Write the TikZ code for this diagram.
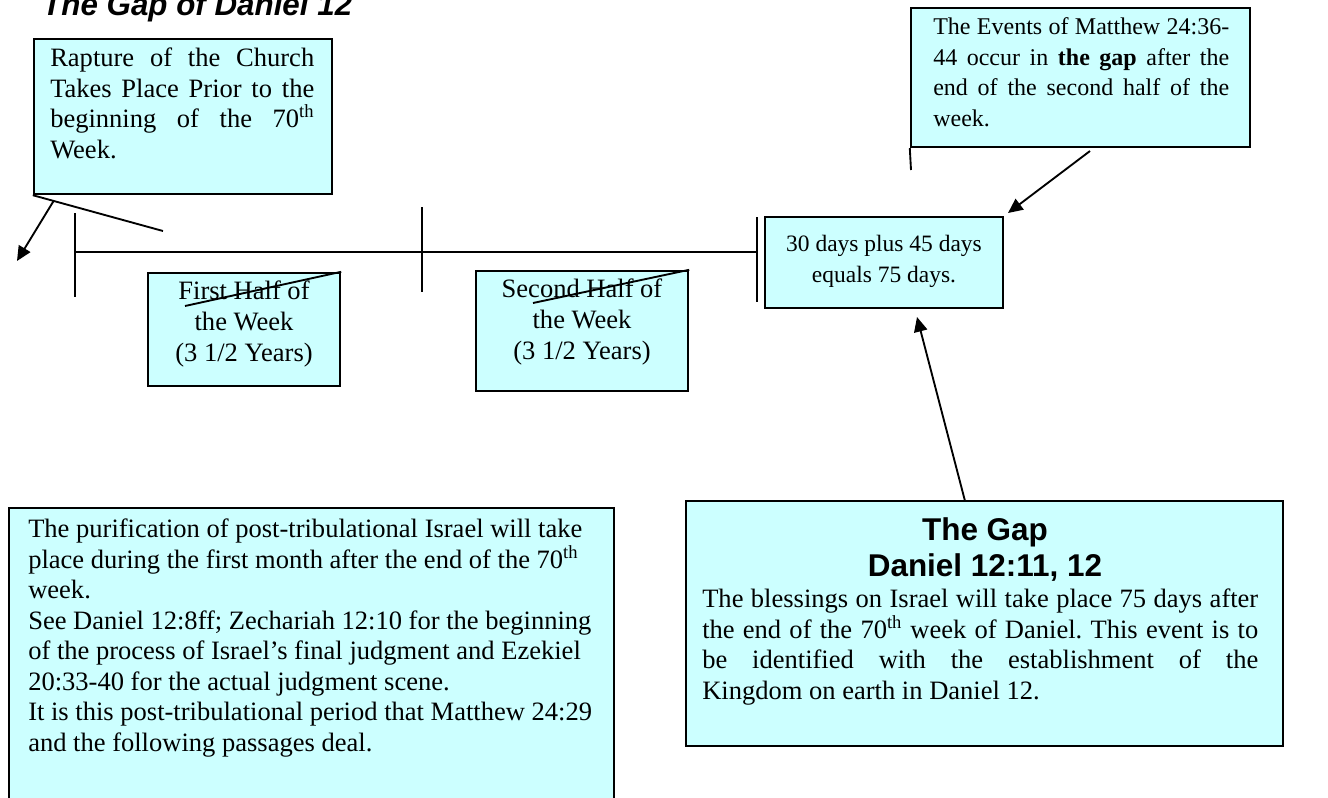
\documentclass[tikz,border=0pt]{standalone}
\usepackage{fontspec}
\setmainfont{Liberation Serif}
\newfontfamily\arialfont{Liberation Sans}
\usetikzlibrary{arrows.meta,fit}
\definecolor{boxcyan}{HTML}{CCFFFF}
\newcommand\J[2]{\makebox[#1][s]{#2}}
\frenchspacing
\tikzset{
  box/.style={draw=black, line width=1.8pt, fill=boxcyan, inner sep=0pt},
  txt/.style={inner sep=0pt, align=left, font=\fontsize{19.9pt}{22.9pt}\selectfont},
  smalltxt/.style={inner sep=0pt, align=left, font=\fontsize{18pt}{22.9pt}\selectfont},
  ctxt/.style={inner sep=0pt, align=center, font=\fontsize{19.9pt}{22.9pt}\selectfont},
  cstxt/.style={inner sep=0pt, align=center, font=\fontsize{17.6pt}{23.2pt}\selectfont},
  head/.style={inner sep=0pt, align=center, font=\arialfont\bfseries\fontsize{23.6pt}{27pt}\selectfont},
  conn/.style={line width=1.4pt},
  arr/.style={conn, -{Triangle[length=11pt,width=10pt]}},
}
\begin{document}
\begin{tikzpicture}[x=0.75pt,y=-0.75pt]
\useasboundingbox (0,0) rectangle (1328,797);
\clip (0,0) rectangle (1328,797);

% title
\node[anchor=base west, inner sep=0pt, font=\arialfont\bfseries\itshape\fontsize{23.5pt}{28pt}\selectfont] (title) at (42,15) {The Gap of Daniel 12};

% box A (text anchor = baseline of the last line)
\node[box, fit={(34,39)(332,194)}] (A) {};
\node[txt, anchor=base west] (At) at (50,158.5) {\J{198pt}{Rapture of the Church}\\\J{198pt}{Takes Place Prior to the}\\\J{198pt}{beginning of the 70\textsuperscript{th}}\\Week.};
\coordinate (a1) at (163,231);
\draw[conn] (A.south west) -- (a1);
\path (A.south west) -- (a1) coordinate[pos=0.16] (a2);
\coordinate (a3) at (17,261);
\draw[arr] (a2) -- (a3);

% timeline
\coordinate (t0) at (75,252);
\coordinate (t1) at (757,252);
\draw[conn] (t0) -- (t1);
\coordinate (k1a) at (75,213); \coordinate (k1b) at (75,297);
\coordinate (k2a) at (422,207); \coordinate (k2b) at (422,292);
\coordinate (k3a) at (757,217); \coordinate (k3b) at (757,302);
\draw[conn] (k1a) -- (k1b);
\draw[conn] (k2a) -- (k2b);
\draw[conn] (k3a) -- (k3b);

% box B1
\node[box, fit={(148,273)(340,386)}] (B1) {};
\node[ctxt, anchor=base] (B1t) at (244,361) {First Half of\\the Week\\(3 1/2 Years)};
\coordinate (s1) at (185,306);
\draw[conn] (B1.north east) -- (s1);

% box B2
\node[box, fit={(476,271)(688,391)}] (B2) {};
\node[ctxt, anchor=base] (B2t) at (582,359) {Second Half of\\the Week\\(3 1/2 Years)};
\coordinate (s2) at (533,303);
\draw[conn] (B2.north east) -- (s2);

% box C
\node[box, fit={(765,217)(1003,308)}] (C) {};
\node[cstxt, anchor=base] (Ct) at (884,282) {30 days plus 45 days\\equals 75 days.};

% box D
\node[box, fit={(911,8)(1250,147)}] (D) {};
\node[smalltxt, anchor=base west] (Dt) at (933,126.5) {\J{222pt}{The Events of Matthew 24:36-}\\\J{222pt}{44 occur in \textbf{the gap} after the}\\\J{222pt}{end of the second half of the}\\week.};
\coordinate (d1) at (911,170);
\draw[conn] (D.south west) -- (d1);
\coordinate (d2) at (1090,151);
\coordinate (c1) at (1008,213);
\draw[arr] (d2) -- (c1);

% box E
\node[box, fit={(9,508)(614,820)}] (E) {};
\node[txt, anchor=base west] (Et) at (28,751.5) {The purification of post-tribulational Israel will take\\place during the first month after the end of the 70\textsuperscript{th}\\week.\\See Daniel 12:8ff; Zechariah 12:10 for the beginning\\of the process of Israel’s final judgment and Ezekiel\\20:33-40 for the actual judgment scene.\\It is this post-tribulational period that Matthew 24:29\\and the following passages deal.};

% box F
\node[box, fit={(686,501)(1283,746)}] (F) {};
\node[head, anchor=base] (Fh) at (985,576) {The Gap\\Daniel 12:11, 12};
\node[txt, anchor=base west] (Ft) at (702,699.5) {\J{417pt}{The blessings on Israel will take place 75 days after}\\\J{417pt}{the end of the 70\textsuperscript{th} week of Daniel. This event is to}\\\J{417pt}{be identified with the establishment of the}\\Kingdom on earth in Daniel 12.};
\coordinate (f1) at (965,501);
\coordinate (c2) at (917,317);
\draw[arr] (f1) -- (c2);
\end{tikzpicture}
\end{document}
